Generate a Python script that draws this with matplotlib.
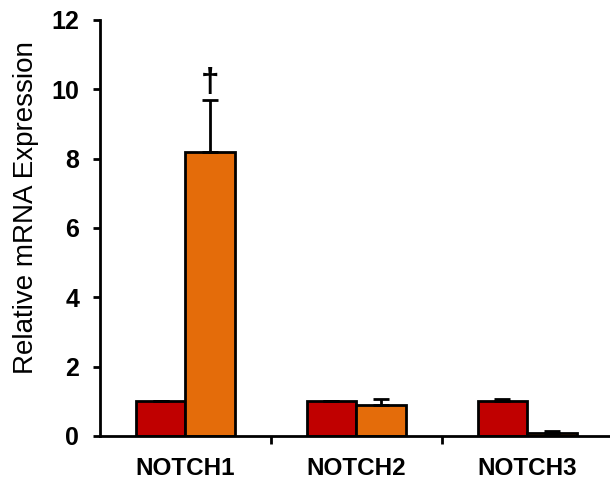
import numpy as np
import matplotlib.pyplot as plt

plt.rcParams['font.family'] = ['Liberation Sans', 'DejaVu Sans']

genes = ['NOTCH1', 'NOTCH2', 'NOTCH3']
control = [1.0, 1.0, 1.0]
control_err = [0.02, 0.02, 0.07]
treated = [8.2, 0.88, 0.09]
treated_err = [1.5, 0.18, 0.05]

fig = plt.figure(figsize=(6.1, 4.87), dpi=100)
ax = fig.add_axes([0.164, 0.105, 0.84, 0.854])

x = np.arange(len(genes)) + 0.5
w = 0.29
err_kw = dict(ecolor='black', elinewidth=2, capsize=6, capthick=2)
ax.bar(x - w / 2, control, w, color='#C00000', edgecolor='black', linewidth=2,
       yerr=[np.zeros(3), control_err], error_kw=err_kw)
ax.bar(x + w / 2, treated, w, color='#E46C0A', edgecolor='black', linewidth=2,
       yerr=[np.zeros(3), treated_err], error_kw=err_kw)

# significance mark
ax.text(x[0] + w / 2, treated[0] + treated_err[0] + 0.05, '\u2020', ha='center', va='bottom',
        fontsize=24, fontweight='bold')

ax.set_xlim(0, 3)
ax.set_ylim(0, 12)
ax.set_yticks(range(0, 13, 2))
ax.set_xticks([1, 2])
ax.set_xticklabels([])
ax.set_xticks(x, minor=True)
ax.set_xticklabels(genes, minor=True, fontsize=17.5, fontweight='bold')
ax.tick_params(axis='x', which='minor', length=0, pad=15)
ax.tick_params(axis='x', which='major', length=6, width=2, direction='out')
ax.tick_params(axis='y', length=5, width=2, direction='out', labelsize=18, pad=10)
for lbl in ax.get_yticklabels():
    lbl.set_fontweight('bold')
ax.set_ylabel('Relative mRNA Expression', fontsize=20)
ax.yaxis.set_label_coords(-0.12, 0.55)

for s in ['top', 'right']:
    ax.spines[s].set_visible(False)
for s in ['left', 'bottom']:
    ax.spines[s].set_linewidth(2)

fig.savefig('out.png', dpi=100)
